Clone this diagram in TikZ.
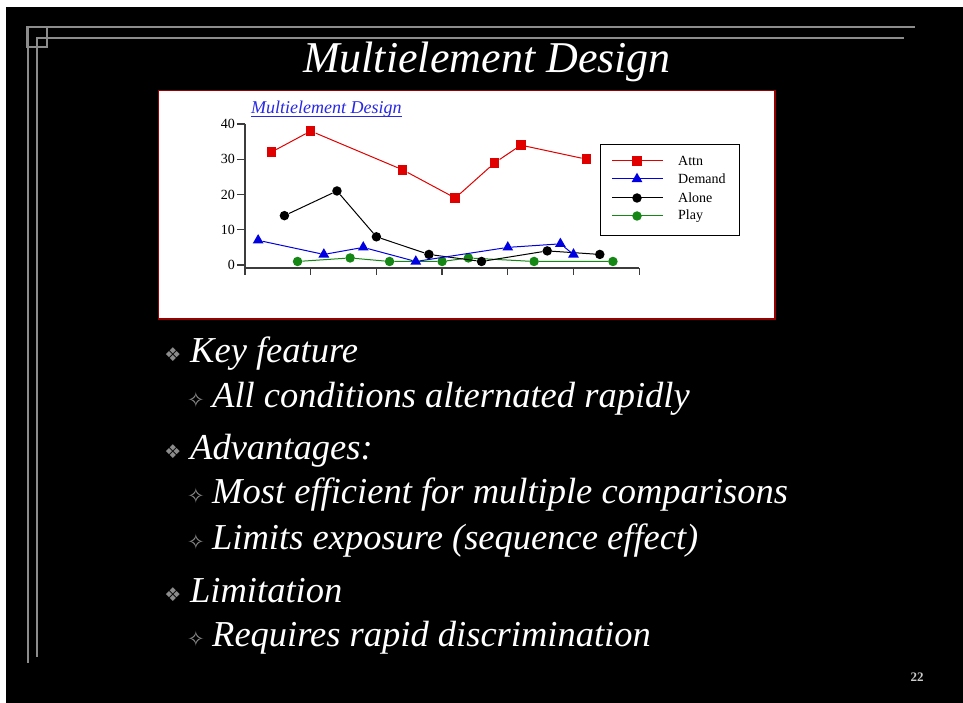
\documentclass[tikz,border=0pt]{standalone}
\usepackage{fontspec}
\setmainfont{Liberation Serif}
\newfontfamily\dejavu{DejaVu Sans}
\usetikzlibrary{positioning, math, shapes.geometric}
\definecolor{attnred}{RGB}{225,0,0}
\definecolor{demandblue}{RGB}{0,0,225}
\definecolor{playgreen}{RGB}{20,135,20}
\definecolor{linkblue}{RGB}{40,40,230}
\definecolor{framegray}{RGB}{140,140,140}
\definecolor{boxred}{RGB}{150,0,0}
\definecolor{axisgray}{RGB}{60,60,60}
\tikzset{
attn/.style={fill=attnred, rectangle, minimum size=9.5pt, inner sep=0pt},
demand/.style={fill=demandblue, regular polygon, regular polygon sides=3, minimum size=12.5pt, inner sep=0pt},
alone/.style={fill=black, circle, minimum size=9.5pt, inner sep=0pt},
play/.style={fill=playgreen, circle, minimum size=9.5pt, inner sep=0pt},
attnline/.style={draw=attnred, line width=1pt},
demandline/.style={draw=demandblue, line width=1pt},
aloneline/.style={draw=black, line width=1pt},
playline/.style={draw=playgreen, line width=1pt},
frameline/.style={draw=framegray, line width=1.5pt},
axisline/.style={draw=axisgray, line width=1.3pt},
ticklabel/.style={anchor=east, inner sep=0pt, font=\fontsize{14}{16}\selectfont},
legendtext/.style={anchor=west, inner sep=0pt, font=\fontsize{14}{16}\selectfont},
mainitem/.style={anchor=base west, inner sep=0pt, text=white, font=\itshape\fontsize{36.5}{40}\selectfont},
subitem/.style={anchor=base west, inner sep=0pt, text=white, font=\itshape\fontsize{36.5}{40}\selectfont},
mainmark/.style={inner sep=0pt, text=framegray, font=\dejavu\fontsize{19}{20}\selectfont},
submark/.style={inner sep=0pt, text=framegray, font=\dejavu\fontsize{21}{22}\selectfont},
}

\begin{document}
\begin{tikzpicture}[x=1pt, y=-1pt]
    \tikzmath{ \ox=245; \oy=265; \sx=13.14; \sy=3.525; };  % chart origin, px per session, px per unit

    \useasboundingbox (0,0) rectangle (963,703);
    \fill[white] (0,0) rectangle (963,703);
    \fill[black] (6,7) rectangle (963,703);

    %frame lines
    \draw[frameline] (27,27)--(915,27);
    \draw[frameline] (28,27)--(28,663);
    \draw[frameline] (36,38)--(904,38);
    \draw[frameline] (37,38)--(37,657);
    \draw[frameline] (27,27) rectangle (47,47);

    %slide title
    \node[anchor=base, inner sep=0pt, text=white, font=\itshape\fontsize{44}{48}\selectfont]
        (title) at (487,73) {Multielement Design};

    %chart box
    \draw[draw=boxred, fill=white, line width=1.2pt] (158.5,90.5) rectangle (775,319);
    \node[anchor=base west, inner sep=0pt, text=linkblue, font=\itshape\fontsize{18}{20}\selectfont]
        (ctitle) at (251,114) {Multielement Design};
    \draw[linkblue, line width=0.8pt] ([yshift=-2.5pt]ctitle.base west)--([yshift=-2.5pt]ctitle.base east);

    %axes
    \draw[axisline] (\ox,\oy-40*\sy)--(\ox,268)--(\ox+30*\sx,268);
    \draw[axisline] (\ox-8,\oy-40*\sy)--(\ox,\oy-40*\sy);
    \draw[axisline] (\ox-8,\oy-30*\sy)--(\ox,\oy-30*\sy);
    \draw[axisline] (\ox-8,\oy-20*\sy)--(\ox,\oy-20*\sy);
    \draw[axisline] (\ox-8,\oy-10*\sy)--(\ox,\oy-10*\sy);
    \draw[axisline] (\ox-8,\oy)--(\ox,\oy);
    \node[ticklabel] (y40) at (\ox-10,\oy-40*\sy) {40};
    \node[ticklabel] (y30) at (\ox-10,\oy-30*\sy) {30};
    \node[ticklabel] (y20) at (\ox-10,\oy-20*\sy) {20};
    \node[ticklabel] (y10) at (\ox-10,\oy-10*\sy) {10};
    \node[ticklabel] (y0)  at (\ox-10,\oy) {0};
    \draw[axisline] (\ox,268)--(\ox,275);
    \draw[axisline] (\ox+5*\sx,268)--(\ox+5*\sx,275);
    \draw[axisline] (\ox+10*\sx,268)--(\ox+10*\sx,275);
    \draw[axisline] (\ox+15*\sx,268)--(\ox+15*\sx,275);
    \draw[axisline] (\ox+20*\sx,268)--(\ox+20*\sx,275);
    \draw[axisline] (\ox+25*\sx,268)--(\ox+25*\sx,275);
    \draw[axisline] (\ox+30*\sx,268)--(\ox+30*\sx,275);

    %play sessions
    \node[play] (p1) at (\ox+4*\sx,\oy-1*\sy) { };
    \node[play] (p2) at (\ox+8*\sx,\oy-2*\sy) { };
    \node[play] (p3) at (\ox+11*\sx,\oy-1*\sy) { };
    \node[play] (p4) at (\ox+15*\sx,\oy-1*\sy) { };
    \node[play] (p5) at (\ox+17*\sx,\oy-2*\sy) { };
    \node[play] (p6) at (\ox+22*\sx,\oy-1*\sy) { };
    \node[play] (p7) at (\ox+28*\sx,\oy-1*\sy) { };
    \draw[playline] (p1)--(p2)--(p3)--(p4)--(p5)--(p6)--(p7);

    %alone sessions
    \node[alone] (al1) at (\ox+3*\sx,\oy-14*\sy) { };
    \node[alone] (al2) at (\ox+7*\sx,\oy-21*\sy) { };
    \node[alone] (al3) at (\ox+10*\sx,\oy-8*\sy) { };
    \node[alone] (al4) at (\ox+14*\sx,\oy-3*\sy) { };
    \node[alone] (al5) at (\ox+18*\sx,\oy-1*\sy) { };
    \node[alone] (al6) at (\ox+23*\sx,\oy-4*\sy) { };
    \node[alone] (al7) at (\ox+27*\sx,\oy-3*\sy) { };
    \draw[aloneline] (al1)--(al2)--(al3)--(al4)--(al5)--(al6)--(al7);

    %demand sessions
    \node[demand] (d1) at (\ox+1*\sx,\oy-7*\sy) { };
    \node[demand] (d2) at (\ox+6*\sx,\oy-3*\sy) { };
    \node[demand] (d3) at (\ox+9*\sx,\oy-5*\sy) { };
    \node[demand] (d4) at (\ox+13*\sx,\oy-1*\sy) { };
    \node[demand] (d5) at (\ox+20*\sx,\oy-5*\sy) { };
    \node[demand] (d6) at (\ox+24*\sx,\oy-6*\sy) { };
    \node[demand] (d7) at (\ox+25*\sx,\oy-3*\sy) { };
    \draw[demandline] (d1)--(d2)--(d3)--(d4)--(d5)--(d6)--(d7);

    %attn sessions
    \node[attn] (a1) at (\ox+2*\sx,\oy-32*\sy) { };
    \node[attn] (a2) at (\ox+5*\sx,\oy-38*\sy) { };
    \node[attn] (a3) at (\ox+12*\sx,\oy-27*\sy) { };
    \node[attn] (a4) at (\ox+16*\sx,\oy-19*\sy) { };
    \node[attn] (a5) at (\ox+19*\sx,\oy-29*\sy) { };
    \node[attn] (a6) at (\ox+21*\sx,\oy-34*\sy) { };
    \node[attn] (a7) at (\ox+26*\sx,\oy-30*\sy) { };
    \draw[attnline] (a1)--(a2)--(a3)--(a4)--(a5)--(a6)--(a7);

    %legend
    \draw[black, line width=0.9pt] (600,144) rectangle (739,235);
    \coordinate (la0) at (612,161);  \coordinate (la1) at (663,161);
    \coordinate (ld0) at (612,179);  \coordinate (ld1) at (663,179);
    \coordinate (lal0) at (612,198); \coordinate (lal1) at (663,198);
    \coordinate (lp0) at (612,216);  \coordinate (lp1) at (663,216);
    \draw[attnline]   (la0)--(la1);
    \draw[demandline] (ld0)--(ld1);
    \draw[aloneline]  (lal0)--(lal1);
    \draw[playline]   (lp0)--(lp1);
    \node[attn]   (la)  at (637,161) { };
    \node[demand] (ld)  at (637,179) { };
    \node[alone]  (lal) at (637,198) { };
    \node[play]   (lp)  at (637,216) { };
    \node[legendtext] (tattn)   at (678,161) {Attn};
    \node[legendtext] (tdemand) at (678,179) {Demand};
    \node[legendtext] (talone)  at (678,198) {Alone};
    \node[legendtext] (tplay)   at (678,216) {Play};

    %bullet points
    \node[mainmark] (m1) at (173,355) {❖};
    \node[mainitem] (key) at (190,362) {Key feature};
    \node[submark] (s1) at (196,400) {✧};
    \node[subitem] (alt) at (212,407) {All conditions alternated rapidly};

    \node[mainmark] (m2) at (173,452) {❖};
    \node[mainitem] (adv) at (190,459) {Advantages:};
    \node[submark] (s2) at (196,496) {✧};
    \node[subitem] (eff) at (212,503) {Most efficient for multiple comparisons};
    \node[submark] (s3) at (196,542) {✧};
    \node[subitem] (exp) at (212,549) {Limits exposure (sequence effect)};

    \node[mainmark] (m3) at (173,595) {❖};
    \node[mainitem] (lim) at (190,602) {Limitation};
    \node[submark] (s4) at (196,639) {✧};
    \node[subitem] (req) at (212,646) {Requires rapid discrimination};

    %page number
    \node[anchor=base, inner sep=0pt, text=black!20, font=\bfseries\fontsize{13}{14}\selectfont]
        (page) at (917,681) {22};

\end{tikzpicture}
\end{document}
